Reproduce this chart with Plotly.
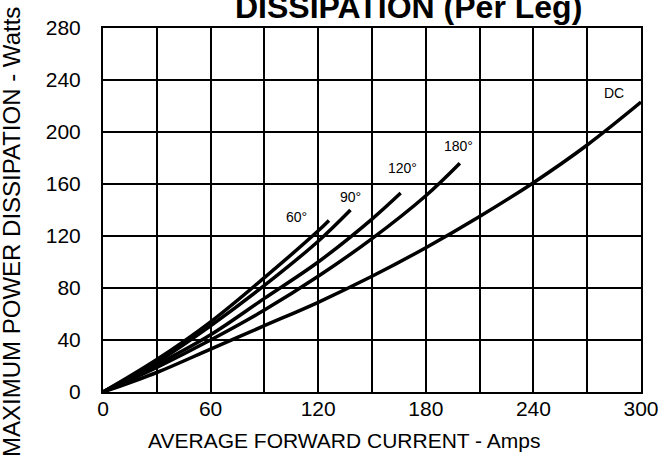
import plotly.graph_objects as go

# Average forward current (A) and max power dissipation (W) per curve
curve_names = ["60°", "90°", "120°", "180°", "DC"]
x_60 = [0, 30, 60, 90, 120, 126]
y_60 = [0, 25, 54, 88, 124, 132]
x_90 = [0, 30, 60, 90, 120, 138]
y_90 = [0, 23, 51, 82, 116, 140]
x_120 = [0, 30, 60, 90, 120, 150, 166]
y_120 = [0, 21, 44, 72, 100, 133, 153]
x_180 = [0, 30, 60, 90, 120, 150, 180, 199]
y_180 = [0, 19, 40, 63, 89, 118, 151, 176]
x_dc = [0, 30, 60, 90, 120, 150, 180, 210, 240, 270, 300]
y_dc = [0, 15, 33, 51, 69, 89, 111, 135, 161, 190, 223]

# label anchor positions (data coords)
label_x = [108, 138, 167, 198, 285]
label_y = [135, 150, 172, 189, 230]

x_ticks = [0, 60, 120, 180, 240, 300]
y_ticks = [0, 40, 80, 120, 160, 200, 240, 280]

FONT = "Liberation Sans, Arial, sans-serif"

fig = go.Figure()
for xs, ys in [(x_60, y_60), (x_90, y_90), (x_120, y_120), (x_180, y_180), (x_dc, y_dc)]:
    fig.add_trace(go.Scatter(x=xs, y=ys, mode="lines",
                             line=dict(color="black", width=3.5, shape="spline", smoothing=1.0),
                             showlegend=False, hoverinfo="skip"))

for name, lx, ly in zip(curve_names, label_x, label_y):
    fig.add_annotation(x=lx, y=ly, text=name, showarrow=False, xanchor="center", yanchor="middle",
                       font=dict(family=FONT, size=14, color="black"))

axis_common = dict(showline=True, linecolor="black", linewidth=2, mirror=True,
                   showgrid=True, gridcolor="black", gridwidth=2, zeroline=False,
                   automargin=False,
                   tickfont=dict(family=FONT, size=21, color="black"))

fig.update_xaxes(range=[0, 300], tickvals=x_ticks, ticks="", ticklabelstandoff=-3,
                 minor=dict(dtick=30, showgrid=True, gridcolor="black", gridwidth=2, ticks=""),
                 **axis_common)
fig.update_yaxes(range=[0, 280], tickvals=y_ticks, ticks="outside", ticklen=16,
                 tickcolor="rgba(0,0,0,0)", **axis_common)

fig.add_annotation(xref="paper", yref="paper", x=0.568, y=1.058, xanchor="center", yanchor="middle",
                   text="<b>DISSIPATION (Per Leg)</b>",
                   showarrow=False, font=dict(family=FONT, size=32, color="black"))
fig.add_annotation(xref="paper", yref="paper", x=0.448, y=-0.132, xanchor="center", yanchor="middle",
                   text="AVERAGE FORWARD CURRENT - Amps",
                   showarrow=False, font=dict(family=FONT, size=21, color="black"))
fig.add_annotation(xref="paper", yref="paper", x=-0.169, y=0.44, xanchor="center", yanchor="middle",
                   text="MAXIMUM POWER DISSIPATION - Watts",
                   textangle=-90, showarrow=False, font=dict(family=FONT, size=24, color="black"))

fig.update_layout(width=668, height=460, margin=dict(l=103, r=27, t=28, b=68),
                  paper_bgcolor="white", plot_bgcolor="white")

fig.write_html("out.html", config={"displayModeBar": False},
               post_script="document.body.style.margin='0';")
